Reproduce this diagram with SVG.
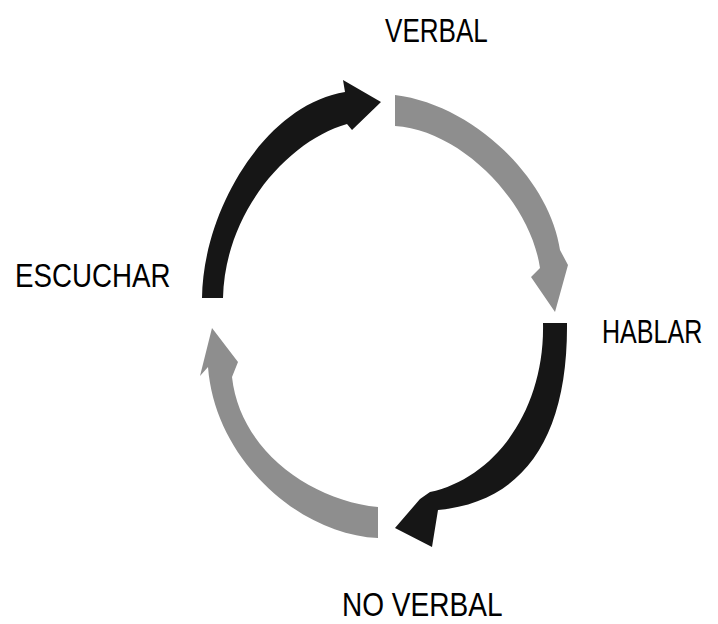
<svg xmlns="http://www.w3.org/2000/svg" width="718" height="624" viewBox="0 0 718 624">
  <style>
    .lbl { font-family: "Liberation Sans", Arial, sans-serif; font-size: 33px; fill: #000; }
    .dark { fill: #161616; }
    .light { fill: #8e8e8e; }
  </style>
  <rect width="718" height="624" fill="#fff"/>
  <g id="connectors">
    <path id="arrow-escuchar-verbal" class="dark" d="M 202,298 C 203,210 265,105 345,92 L 343,80 L 381,102 L 352,130 L 347,124 C 290,140 225,210 223,298 Z"/>
    <path id="arrow-verbal-hablar" class="light" d="M 395,95 L 395,126 C 460,130 530,200 540,268 L 531,277 L 555,312 L 568,265 L 560,250 C 550,180 475,105 395,95 Z"/>
    <path id="arrow-hablar-noverbal" class="dark" d="M 543,323 L 567,323 C 568,440 522,502 438,510 L 432,547 L 395,528 L 420,499 L 430,492 C 495,478 545,410 543,323 Z"/>
    <path id="arrow-noverbal-escuchar" class="light" d="M 378,507 L 378,538 C 300,535 215,460 208,367 L 200,376 L 212,328 L 238,362 L 232,377 C 240,450 310,500 378,507 Z"/>
  </g>
  <g id="node-verbal"><text class="lbl" transform="translate(385,42) scale(0.79,1)">VERBAL</text></g>
  <g id="node-hablar"><text class="lbl" transform="translate(602,343) scale(0.76,1)">HABLAR</text></g>
  <g id="node-noverbal"><text class="lbl" transform="translate(342,616) scale(0.85,1)">NO VERBAL</text></g>
  <g id="node-escuchar"><text class="lbl" transform="translate(15,287) scale(0.84,1)">ESCUCHAR</text></g>
</svg>
